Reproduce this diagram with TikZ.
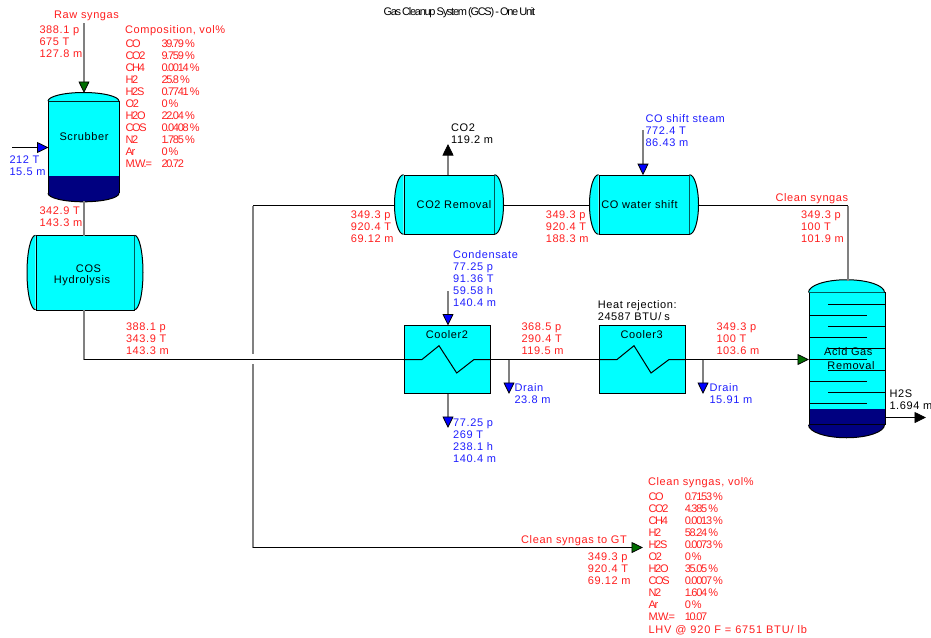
\documentclass[tikz,border=0pt]{standalone}
\usepackage{fontspec}
\usetikzlibrary{arrows.meta}
\setmainfont{Liberation Sans}
\newfontfamily\widefont[LetterSpace=5.5]{Liberation Sans}
\newfontfamily\lhvfont[LetterSpace=7.5]{Liberation Sans}
\newfontfamily\tightfont[LetterSpace=-11.5, WordSpace=0.6]{Liberation Sans}
\definecolor{vessel}{RGB}{0,255,255}
\definecolor{bottoms}{RGB}{0,0,128}
\definecolor{headgreen}{RGB}{0,110,0}
\definecolor{headblue}{RGB}{0,0,255}
\definecolor{redtext}{RGB}{255,30,30}
\definecolor{bluetext}{RGB}{30,30,255}
\begin{document}
\begin{tikzpicture}[x=1pt, y=-1pt, line width=1pt,
    every node/.style={inner sep=0pt},
    lbl/.style={anchor=north west, align=left, execute at begin node=\strut, font=\widefont\fontsize{11}{12.1}\selectfont},
    tight/.style={anchor=north west, align=left, execute at begin node=\strut, font=\tightfont\fontsize{11}{12.05}\selectfont},
    eqname/.style={align=left, font=\widefont\fontsize{11}{12.1}\selectfont},
    eqbody/.style={draw, fill=vessel},
    pipe/.style={draw=black},
    vpipe/.style={draw=black!50, line width=1.8pt},
    greentip/.style={-{Triangle[length=11.5pt, width=11pt, fill=headgreen, color=black, line width=0.8pt]}},
    bluetip/.style={-{Triangle[length=11.5pt, width=11pt, fill=headblue, color=black, line width=0.8pt]}},
    blacktip/.style={-{Triangle[length=11.5pt, width=11pt, fill=black, color=black, line width=0.8pt]}}]
  \useasboundingbox (0,0) rectangle (931,637);
  % Scrubber
  \node[eqbody, minimum width=71pt, minimum height=91pt] (scrub) at (84,147.2) {};
  \draw[fill=vessel] (scrub.north west) arc[start angle=180, end angle=360, x radius=35.5, y radius=8.7];
  \fill[bottoms] (48.5,175.5) rectangle (119.5,192.7);
  \draw[fill=bottoms] (scrub.south west) arc[start angle=180, end angle=0, x radius=35.5, y radius=8.6];
  \draw (48.5,175.5) -- (48.5,192.7) (119.5,175.5) -- (119.5,192.7);
  \coordinate (scrubTop) at (84,93);
  \coordinate (scrubBot) at (84,201);
  \coordinate (scrubIn) at (48.5,147.5);
  \coordinate (rawIn) at (84,23);
  \coordinate (waterIn) at (12,147.5);
  % COS hydrolysis
  \node[eqbody, minimum width=98pt, minimum height=74.5pt] (cos) at (85,273) {};
  \draw[fill=vessel] (cos.north west) arc[start angle=270, end angle=90, x radius=8.5, y radius=37.25];
  \draw[fill=vessel] (cos.north east) arc[start angle=-90, end angle=90, x radius=8.5, y radius=37.25];
  \coordinate (cosTop) at (84,235.7);
  \coordinate (cosBot) at (84,310.3);
  \coordinate (mainBend) at (84,359.5);
  % CO2 removal and CO shift
  \node[eqbody, minimum width=90pt, minimum height=59.6pt] (rem) at (449,205) {};
  \draw[fill=vessel] (rem.north west) arc[start angle=270, end angle=90, x radius=9, y radius=29.8];
  \draw[fill=vessel] (rem.north east) arc[start angle=-90, end angle=90, x radius=9, y radius=29.8];
  \node[eqbody, minimum width=90pt, minimum height=59.6pt] (shift) at (644,205) {};
  \draw[fill=vessel] (shift.north west) arc[start angle=270, end angle=90, x radius=9, y radius=29.8];
  \draw[fill=vessel] (shift.north east) arc[start angle=-90, end angle=90, x radius=9, y radius=29.8];
  \coordinate (remW) at (395,205.5);
  \coordinate (remE) at (503,205.5);
  \coordinate (remTop) at (448,175.2);
  \coordinate (shiftW) at (590,205.5);
  \coordinate (shiftE) at (698,205.5);
  \coordinate (shiftTop) at (643,175.2);
  \coordinate (co2Out) at (448,144);
  \coordinate (steamIn) at (643,130);
  % Coolers
  \node[eqbody, minimum width=86pt, minimum height=68pt] (cool2) at (447,359.5) {};
  \node[eqbody, minimum width=86pt, minimum height=68pt] (cool3) at (642,359.5) {};
  \coordinate (condIn) at (448,291);
  \coordinate (cool2Top) at (448,325.5);
  \coordinate (cool2Bot) at (448,393.5);
  \coordinate (condOut) at (448,428);
  \coordinate (drainA) at (509,359.5);
  \coordinate (drainAOut) at (509,394);
  \coordinate (drainB) at (703,359.5);
  \coordinate (drainBOut) at (703,394);
  % Acid gas removal
  \node[eqbody, minimum width=76pt, minimum height=131.3pt] (acid) at (847,358.6) {};
  \draw[fill=vessel] (acid.north west) arc[start angle=180, end angle=360, x radius=38, y radius=12.7];
  \fill[bottoms] (809,408.7) rectangle (885,424.3);
  \draw[fill=bottoms] (acid.south west) arc[start angle=180, end angle=0, x radius=38, y radius=13];
  \draw (809,408.7) -- (809,424.3) (885,408.7) -- (885,424.3);
  \draw (828,304.5) -- (885,304.5);
  \draw (809,315.5) -- (867,315.5);
  \draw (828,326.5) -- (885,326.5);
  \draw (809,337.5) -- (867,337.5);
  \draw (828,348.5) -- (885,348.5);
  \draw (809,359.5) -- (867,359.5);
  \draw (828,370.5) -- (885,370.5);
  \draw (809,381.5) -- (867,381.5);
  \draw (828,392.5) -- (885,392.5);
  \draw (809,403.5) -- (867,403.5);
  \coordinate (acidTop) at (848,280.5);
  \coordinate (acidBend) at (848,205.5);
  \coordinate (acidIn) at (809,359.5);
  \coordinate (acidOut) at (885,417.5);
  \coordinate (hsOut) at (926,417.5);
  % Pipes
  \draw[vpipe, greentip] (rawIn) -- (scrubTop);
  \draw[pipe, bluetip] (waterIn) -- (scrubIn);
  \draw[vpipe] (scrubBot) -- (cosTop);
  \draw[vpipe] (cosBot) -- (mainBend);
  \draw[pipe] (mainBend) -- (cool2.west);
  \draw[pipe] (cool2.west) -- (422,359.5) -- (439,345.7) -- (456.7,373) -- (474,359.5) -- (cool2.east);
  \draw[pipe] (cool2.east) -- (cool3.west);
  \draw[pipe] (cool3.west) -- (617,359.5) -- (634,345.7) -- (651,373) -- (669,359.5) -- (cool3.east);
  \draw[pipe, greentip] (cool3.east) -- (acidIn);
  \draw[vpipe, bluetip] (condIn) -- (cool2Top);
  \draw[vpipe, bluetip] (cool2Bot) -- (condOut);
  \draw[vpipe, bluetip] (drainA) -- (drainAOut);
  \draw[vpipe, bluetip] (drainB) -- (drainBOut);
  \draw[vpipe, blacktip] (remTop) -- (co2Out);
  \draw[vpipe, bluetip] (steamIn) -- (shiftTop);
  \draw[pipe] (remE) -- (shiftW);
  \draw[pipe] (shiftE) -- (acidBend);
  \draw[vpipe] (acidBend) -- (acidTop);
  \draw[pipe, blacktip] (acidOut) -- (hsOut);
  % Line to GT, broken at the crossing
  \coordinate (gapTop) at (253,354);
  \coordinate (gapBot) at (253,364);
  \coordinate (gtTop) at (253,205.5);
  \coordinate (gtBend) at (253,547.5);
  \coordinate (gtOut) at (643,547.5);
  \draw[pipe] (remW) -- (gtTop);
  \draw[vpipe] (gtTop) -- (gapTop);
  \draw[vpipe] (gapBot) -- (gtBend);
  \draw[pipe, greentip] (gtBend) -- (gtOut);
  % Equipment names
  \node[eqname] (scrubName) at (84,137) {Scrubber};
  \node[eqname] (cosNameA) at (88.5,268.3) {COS};
  \node[eqname] (cosNameB) at (82,280.3) {Hydrolysis};
  \node[eqname] (remName) at (454,205) {CO2 Removal};
  \node[eqname] (shiftName) at (639.5,205) {CO water shift};
  \node[eqname] (cool2Name) at (447,334.3) {Cooler2};
  \node[eqname] (cool3Name) at (641.7,334.3) {Cooler3};
  \node[eqname] (acidNameA) at (848.3,351.3) {Acid Gas};
  \node[eqname] (acidNameB) at (851,365.3) {Removal};
  % Stream labels
  \node[tight] (title) at (383,6.3) {Gas Cleanup System (GCS) - One Unit};
  \node[lbl, redtext] (rawName) at (53.7,10) {Raw syngas};
  \node[lbl, redtext] (rawData) at (39,25) {388.1 p\\675 T\\127.8 m};
  \node[lbl, bluetext] (waterData) at (9,155.5) {212 T\\15.5 m};
  \node[lbl, redtext] (scrubData) at (39,206.5) {342.9 T\\143.3 m};
  \node[lbl, redtext] (cosData) at (125.5,322) {388.1 p\\343.9 T\\143.3 m};
  \node[lbl] (co2Data) at (450.7,123.2) {CO2\\119.2 m};
  \node[lbl, bluetext] (steamData) at (645,114) {CO shift steam\\772.4 T\\86.43 m};
  \node[lbl, redtext] (remData) at (350.3,210) {349.3 p\\920.4 T\\69.12 m};
  \node[lbl, redtext] (shiftData) at (545.3,210) {349.3 p\\920.4 T\\188.3 m};
  \node[lbl, redtext] (cleanName) at (775,193) {Clean syngas};
  \node[lbl, redtext] (cleanData) at (800.5,210) {349.3 p\\100 T\\101.9 m};
  \node[lbl, bluetext] (condData) at (452.7,250) {Condensate\\77.25 p\\91.36 T\\59.58 h\\140.4 m};
  \node[lbl] (heatData) at (597.3,300) {Heat rejection:\\24587 BTU/\kern3pt s};
  \node[lbl, redtext] (coolData) at (521,322) {368.5 p\\290.4 T\\119.5 m};
  \node[lbl, bluetext] (drainAData) at (514,383) {Drain\\23.8 m};
  \node[lbl, bluetext] (condOutData) at (452.7,418) {77.25 p\\269 T\\238.1 h\\140.4 m};
  \node[lbl, redtext] (acidData) at (716,322) {349.3 p\\100 T\\103.6 m};
  \node[lbl, bluetext] (drainBData) at (709,383) {Drain\\15.91 m};
  \node[lbl] (hsData) at (889,389.5) {H2S\\1.694 m};
  \node[lbl, redtext] (gtName) at (520.7,535) {Clean syngas to GT};
  \node[lbl, redtext] (gtData) at (587.3,552) {349.3 p\\920.4 T\\69.12 m};
  % Composition tables
  \node[lbl, redtext] (rawHead) at (124.5,24.5) {Composition, vol\%};
  \node[tight, redtext] (rawKeys) at (125,39) {CO\\CO2\\CH4\\H2\\H2S\\O2\\H2O\\COS\\N2\\Ar\\M.W.=};
  \node[tight, redtext] (rawVals) at (161,39) {39.79 \%\\9.759 \%\\0.0014 \%\\25.8 \%\\0.7741 \%\\0 \%\\22.04 \%\\0.0408 \%\\1.785 \%\\0 \%\\20.72};
  \node[lbl, redtext] (cleanHead) at (647.5,477) {Clean syngas, vol\%};
  \node[tight, redtext] (cleanKeys) at (648,492) {CO\\CO2\\CH4\\H2\\H2S\\O2\\H2O\\COS\\N2\\Ar\\M.W.=};
  \node[tight, redtext] (cleanVals) at (684.3,492) {0.7153 \%\\4.385 \%\\0.0013 \%\\58.24 \%\\0.0073 \%\\0 \%\\35.05 \%\\0.0007 \%\\1.604 \%\\0 \%\\10.07};
  \node[lbl, redtext] (lhvData) at (648,625) {\lhvfont LHV @ 920 F = 6751 BTU/\kern4pt lb};
\end{tikzpicture}
\end{document}
